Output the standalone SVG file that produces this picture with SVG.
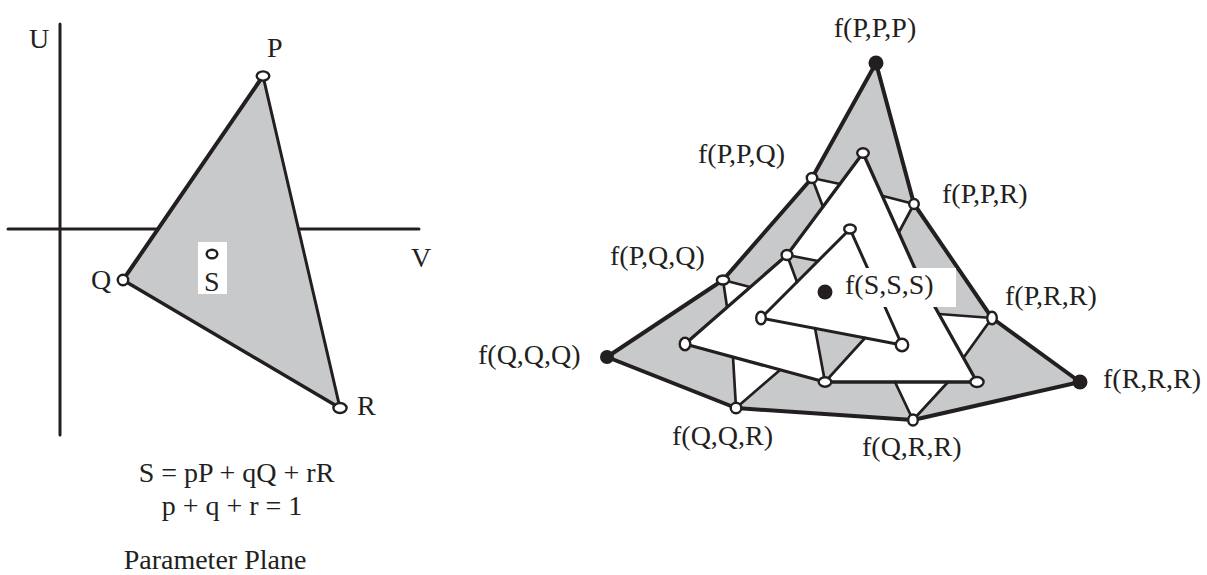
<svg xmlns="http://www.w3.org/2000/svg" width="1207" height="575" viewBox="0 0 1207 575">
<style>
text{font-family:"Liberation Serif","Times New Roman",serif;font-size:28px;fill:#231f20}
.mid{text-anchor:middle}
.ln{stroke:#231f20;fill:none;stroke-linecap:round;stroke-linejoin:round}
.o{fill:#fff;stroke:#231f20;stroke-width:2.4}
.d{fill:#231f20}
.g{fill:#c8c9cb}
.w{fill:#fff}
</style>
<rect width="1207" height="575" fill="#fff"/>
<!-- Left: parameter plane -->
<g id="axes" class="ln" stroke-width="3">
<line x1="60" y1="24" x2="60" y2="435"/>
<line x1="8" y1="229" x2="419" y2="229"/>
</g>
<g id="param-triangle">
<polygon class="g" points="263,76 123,280 340,408"/>
<g class="ln">
<line x1="263" y1="76" x2="123" y2="280" stroke-width="4"/>
<line x1="263" y1="76" x2="340" y2="408" stroke-width="3"/>
<line x1="123" y1="280" x2="340" y2="408" stroke-width="3.5"/>
</g>
</g>
<g id="node-P"><ellipse class="o" cx="263" cy="76" rx="6.3" ry="4.6"/><text x="267" y="57">P</text></g>
<g id="node-Q"><ellipse class="o" cx="123" cy="280" rx="5.2" ry="5.2"/><text x="91" y="289">Q</text></g>
<g id="node-R"><ellipse class="o" cx="340" cy="408" rx="6.6" ry="5"/><text x="357" y="415">R</text></g>
<g id="node-S"><rect class="w" x="198" y="242" width="29" height="52"/><ellipse class="o" cx="212" cy="254" rx="5.3" ry="4.3"/><text x="204" y="291">S</text></g>
<g id="axis-labels"><text x="29" y="48">U</text><text x="411" y="267">V</text></g>
<g id="equations">
<text class="mid" x="236.5" y="482">S = pP + qQ + rR</text>
<text class="mid" x="232" y="515">p + q + r = 1</text>
<text class="mid" x="215" y="569">Parameter Plane</text>
</g>
<!-- Right: de Casteljau net -->
<g id="fills">
<polygon class="g" points="876,63 812,178 723,280 607,357 736,408 913,420 1080,382 992,318 914,204"/>
<polygon class="w" points="863,153 787,255 685,344 825,382 977,382 921,282"/>
<polygon class="w" points="812,178 840,184 823,207"/>
<polygon class="w" points="914,204 883,196 899,232"/>
<polygon class="w" points="723,280 750,287 727,307"/>
<polygon class="w" points="736,408 733,357 780,370"/>
<polygon class="w" points="913,420 895,382 948,382"/>
<polygon class="w" points="992,318 939,314 964,357"/>
<polygon class="g" points="787,255 818,261 797,282"/>
<polygon class="g" points="825,382 815,328 865,338"/>
</g>
<g id="connectors" class="ln">
<polygon points="876,63 812,178 723,280 607,357 736,408 913,420 1080,382 992,318 914,204" stroke-width="4"/>
<polygon points="863,153 787,255 685,344 825,382 977,382 921,282" stroke-width="3.3"/>
<polygon points="850,229 761,318 902,345" stroke-width="3"/>
<g stroke-width="2.7">
<polyline points="840,184 812,178 823,207"/>
<polyline points="883,196 914,204 899,232"/>
<polyline points="750,287 723,280 727,307"/>
<polyline points="733,357 736,408 780,370"/>
<polyline points="895,382 913,420 948,382"/>
<polyline points="939,314 992,318 964,357"/>
<polyline points="818,261 787,255 797,282"/>
<polyline points="815,328 825,382 865,338"/>
</g>
</g>
<g id="node-PPP"><circle class="d" cx="876" cy="63" r="7.5"/><text class="mid" x="875" y="37">f(P,P,P)</text></g>
<g id="node-PPQ"><ellipse class="o" cx="812" cy="178" rx="5.2" ry="5"/><text x="698" y="163">f(P,P,Q)</text></g>
<g id="node-PPR"><ellipse class="o" cx="914" cy="204" rx="4.8" ry="5"/><text x="942" y="203">f(P,P,R)</text></g>
<g id="node-PQQ"><ellipse class="o" cx="723" cy="280" rx="6.1" ry="4.5"/><text x="610" y="265">f(P,Q,Q)</text></g>
<g id="node-QQQ"><circle class="d" cx="607" cy="357" r="7"/><text x="478" y="364">f(Q,Q,Q)</text></g>
<g id="node-QQR"><ellipse class="o" cx="736" cy="408" rx="5.3" ry="5.3"/><text x="672" y="445">f(Q,Q,R)</text></g>
<g id="node-QRR"><ellipse class="o" cx="913" cy="420" rx="4.8" ry="5.5"/><text x="862" y="456">f(Q,R,R)</text></g>
<g id="node-RRR"><circle class="d" cx="1080" cy="382" r="7.5"/><text x="1103" y="388">f(R,R,R)</text></g>
<g id="node-PRR"><ellipse class="o" cx="992" cy="318" rx="4.8" ry="6.3"/><text x="1005" y="305">f(P,R,R)</text></g>
<g id="node-mid-PP"><ellipse class="o" cx="863" cy="153" rx="5.8" ry="4.8"/></g>
<g id="node-mid-PQ"><ellipse class="o" cx="787" cy="255" rx="5.4" ry="5"/></g>
<g id="node-mid-QQ"><ellipse class="o" cx="685" cy="344" rx="5.3" ry="6.2"/></g>
<g id="node-mid-QR"><ellipse class="o" cx="825" cy="382" rx="6.3" ry="4.7"/></g>
<g id="node-mid-RR"><ellipse class="o" cx="977" cy="382" rx="6.6" ry="5"/></g>
<g id="node-in-top"><ellipse class="o" cx="850" cy="229" rx="5.8" ry="4.5"/></g>
<g id="node-in-left"><ellipse class="o" cx="761" cy="318" rx="4.8" ry="6.3"/></g>
<g id="node-in-right"><ellipse class="o" cx="902" cy="345" rx="6.2" ry="6.2"/></g>
<g id="node-SSS"><rect class="w" x="838" y="268" width="118" height="39"/><circle class="d" cx="825" cy="292" r="7.5"/><text x="845" y="294">f(S,S,S)</text></g>
</svg>
